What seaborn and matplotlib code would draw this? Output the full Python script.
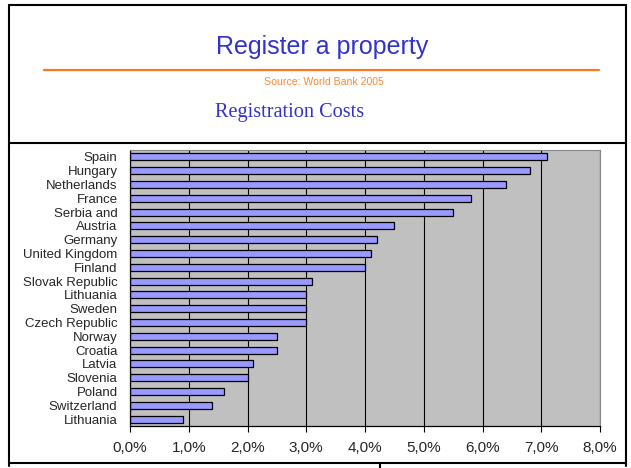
#!/usr/bin/env python3
import matplotlib
matplotlib.use('Agg')
import matplotlib.pyplot as plt
from matplotlib.lines import Line2D
from matplotlib.ticker import FuncFormatter, MultipleLocator
import numpy as np
import seaborn as sns

countries = ['Spain', 'Hungary', 'Netherlands', 'France', 'Serbia and',
             'Austria', 'Germany', 'United Kingdom', 'Finland',
             'Slovak Republic', 'Lithuania', 'Sweden', 'Czech Republic',
             'Norway', 'Croatia', 'Latvia', 'Slovenia', 'Poland',
             'Switzerland', 'Lithuania']
costs = [7.1, 6.8, 6.4, 5.8, 5.5, 4.5, 4.2, 4.1, 4.0, 3.1,
         3.0, 3.0, 3.0, 2.5, 2.5, 2.1, 2.0, 1.6, 1.4, 0.9]

sns.set_style('white')
plt.rcParams['font.family'] = ['Liberation Sans', 'DejaVu Sans']

fig = plt.figure(figsize=(6.31, 4.68), dpi=100)
W, H = 631, 468
ax = fig.add_axes([130 / W, 1 - 426 / H, 470 / W, 276 / H])

# positions as strings so the two "Lithuania" rows stay separate
pos = [str(i) for i in range(len(countries))]
sns.barplot(x=costs, y=pos, orient='h', color='#9999FF', saturation=1,
            edgecolor='black', linewidth=0.9, width=0.5, ax=ax)

ax.set_facecolor('#C0C0C0')
ax.set_xlim(0, 8)
ax.set_ylim(len(countries) - 0.5, -0.5)
ax.xaxis.set_major_locator(MultipleLocator(1))
ax.xaxis.set_major_formatter(FuncFormatter(lambda v, p: f'{v:.1f}%'.replace('.', ',')))
ax.grid(axis='x', color='black', linewidth=0.8)
ax.set_axisbelow(True)

ax.set_yticks(range(len(countries)))
ax.set_yticklabels(countries)
ax.set_yticks(np.arange(-0.5, len(countries), 1), minor=True)
ax.tick_params(axis='y', which='major', length=0, labelsize=9.5, pad=9)
ax.tick_params(axis='y', which='minor', length=4, color='black', direction='out')
ax.tick_params(axis='x', length=4, color='black', direction='out',
               labelsize=11, pad=7, bottom=True)
ax.set_xlabel('')
ax.set_ylabel('')
for side in ['left', 'bottom']:
    ax.spines[side].set_color('black')
    ax.spines[side].set_linewidth(0.9)
for side in ['top', 'right']:
    ax.spines[side].set_color('#888888')
    ax.spines[side].set_linewidth(0.8)

# slide header
blue = '#3333CC'
fig.text(322 / W, 1 - 47 / H, 'Register a property', color=blue,
         fontsize=18, ha='center', va='center',
         family=['Liberation Sans', 'DejaVu Sans'])
fig.add_artist(Line2D([44 / W, 599 / W], [1 - 70 / H] * 2,
                      color='#FF7722', linewidth=1.6))
fig.text(324 / W, 1 - 82 / H, 'Source: World Bank 2005', color='#FF8833',
         fontsize=7.6, ha='center', va='center')
fig.text(290 / W, 1 - 112 / H, 'Registration Costs', color=blue,
         fontsize=14.6, ha='center', va='center',
         family=['Liberation Serif', 'DejaVu Serif'])

# frame lines
frame = dict(color='black', linewidth=1.5)
fig.add_artist(Line2D([9 / W, 9 / W], [1 - 5 / H, 1 - 466 / H], **frame))
fig.add_artist(Line2D([626 / W, 626 / W], [1 - 5 / H, 1 - 466 / H], **frame))
fig.add_artist(Line2D([9 / W, 626 / W], [1 - 5 / H] * 2, **frame))
fig.add_artist(Line2D([9 / W, 626 / W], [1 - 143 / H] * 2, **frame))
fig.add_artist(Line2D([9 / W, 626 / W], [1 - 463 / H] * 2, **frame))
fig.add_artist(Line2D([380 / W, 380 / W], [1 - 463 / H, 1 - 468 / H], **frame))

fig.savefig('out.png', dpi=100)
